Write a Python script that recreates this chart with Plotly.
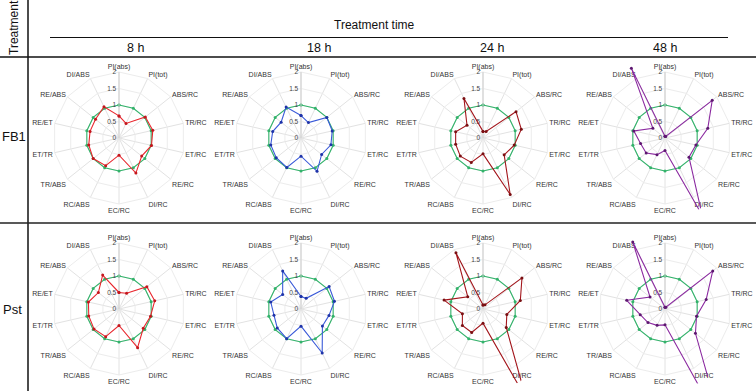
import plotly.graph_objects as go

# ---------------- data ----------------
params = ["PI(abs)", "PI(tot)", "ABS/RC", "TR/RC", "ET/RC", "RE/RC", "DI/RC",
          "EC/RC", "RC/ABS", "TR/ABS", "ET/TR", "RE/ET", "RE/ABS", "DI/ABS"]
times = ["8 h", "18 h", "24 h", "48 h"]
treatments = ["FB1", "Pst"]
radial_ticks = [0, 0.5, 1, 1.5, 2]
radial_ticktext = ["0", "0.5", "1", "1.5", "2"]

control = [1, 1, 1, 1, 1, 1, 1, 1, 1, 1, 1, 1, 1, 1]

fb1_8h = [0.67, 0.49, 1.02, 1.05, 1.01, 0.88, 1.18, 0.52, 0.93, 1.00, 0.94, 0.90, 0.91, 1.05]
fb1_18h = [0.68, 0.52, 1.00, 0.97, 0.93, 0.80, 1.12, 0.55, 0.99, 0.96, 0.94, 0.88, 0.77, 1.04]
fb1_24h = [0.20, 0.22, 1.28, 1.19, 0.97, 0.82, 1.90, 0.48, 0.82, 0.88, 0.85, 0.85, 0.62, 1.33]
fb1_48h = [0.05, 0.05, 1.83, 1.33, 0.96, 0.93, 2.60, 0.38, 0.56, 0.73, 0.76, 0.97, 0.47, 2.35]

pst_8h = [0.50, 0.53, 1.08, 1.11, 0.98, 0.94, 1.30, 0.50, 0.93, 0.97, 0.94, 0.95, 0.80, 1.14]
pst_18h = [0.38, 0.36, 1.09, 1.04, 0.87, 0.83, 1.48, 0.52, 1.00, 0.92, 0.84, 0.94, 0.71, 1.28]
pst_24h = [0.12, 0.14, 1.51, 1.16, 0.74, 0.90, 3.00, 0.43, 0.79, 0.80, 0.64, 1.21, 0.59, 1.89]
pst_48h = [0.05, 0.06, 1.85, 1.28, 0.98, 1.18, 4.00, 0.48, 0.55, 0.66, 0.77, 1.19, 0.58, 2.25]

series = [[fb1_8h, fb1_18h, fb1_24h, fb1_48h],
          [pst_8h, pst_18h, pst_24h, pst_48h]]

line_colors = ["#e8262d", "#3a5ad8", "#a3161c", "#8b2aa0"]
marker_colors = ["#c4161d", "#1f33a8", "#7a0f12", "#5d1770"]
control_color = "#33b36b"

# ---------------- layout geometry ----------------
W, H = 756, 391
col_cx = [119, 301, 483, 665]
row_cy = [138, 309]
unit_px = 33
grid_max = 2
data_max = [2.4, 2.48]
FONT = "Liberation Sans, Arial, sans-serif"


def dom(cx, cy, rad):
    return dict(x=[(cx - rad) / W, (cx + rad) / W],
                y=[1 - (cy + rad) / H, 1 - (cy - rad) / H])


fig = go.Figure()
layout_polars = {}

# control traces in grid polars (1..8)
for i in range(2):
    for j in range(4):
        k = i * 4 + j
        gid = "polar" if k == 0 else f"polar{k + 1}"
        fig.add_trace(go.Scatterpolar(
            r=control + control[:1], theta=params + params[:1],
            mode="lines+markers", subplot=gid,
            line=dict(color=control_color, width=1.1),
            marker=dict(color=control_color, size=3),
            showlegend=False, hoverinfo="skip"))
        layout_polars[gid] = dict(
            domain=dom(col_cx[j], row_cy[i], grid_max * unit_px),
            bgcolor="rgba(0,0,0,0)", gridshape="linear",
            radialaxis=dict(range=[0, grid_max], tickvals=radial_ticks,
                            ticktext=radial_ticktext, angle=90, tickangle=90,
                            side="counterclockwise", showline=True,
                            linecolor="#cfcfcf", linewidth=1,
                            gridcolor="#ececec", gridwidth=1, ticks="",
                            tickfont=dict(size=6.5, color="#444", family=FONT)),
            angularaxis=dict(type="category", categoryarray=params,
                             direction="clockwise", rotation=90,
                             showline=True, linecolor="#ececec", linewidth=1,
                             gridcolor="#e2e2e2", gridwidth=1, ticks="",
                             tickfont=dict(size=7, color="#333", family=FONT)))

# treatment traces in overlay polars (9..16)
for i in range(2):
    for j in range(4):
        k = i * 4 + j
        did = f"polar{k + 9}"
        vals = series[i][j]
        fig.add_trace(go.Scatterpolar(
            r=vals + vals[:1], theta=params + params[:1],
            mode="lines+markers", subplot=did,
            line=dict(color=line_colors[j], width=1.1),
            marker=dict(color=marker_colors[j], size=3),
            showlegend=False, hoverinfo="skip"))
        layout_polars[did] = dict(
            domain=dom(col_cx[j], row_cy[i], data_max[i] * unit_px),
            bgcolor="rgba(0,0,0,0)", gridshape="linear",
            radialaxis=dict(range=[0, data_max[i]], showgrid=False,
                            showticklabels=False, showline=False, ticks=""),
            angularaxis=dict(type="category", categoryarray=params,
                             direction="clockwise", rotation=90,
                             showgrid=False, showticklabels=False,
                             showline=False, ticks=""))

fig.update_layout(**layout_polars)

# ---------------- table frame & headers ----------------
def px(x):
    return x / W


def py(y):
    return 1 - y / H


shapes = [
    dict(type="line", xref="paper", yref="paper", x0=px(28), x1=px(28), y0=0, y1=1,
         line=dict(color="#111", width=1.5)),
    dict(type="line", xref="paper", yref="paper", x0=0, x1=1, y0=py(57), y1=py(57),
         line=dict(color="#111", width=1.5)),
    dict(type="line", xref="paper", yref="paper", x0=0, x1=1, y0=py(223), y1=py(223),
         line=dict(color="#222", width=1.5)),
    dict(type="line", xref="paper", yref="paper", x0=px(50), x1=px(728), y0=py(37.5), y1=py(37.5),
         line=dict(color="#111", width=1.2)),
]

header_x = [135.5, 319, 492, 665]
annotations = [
    dict(text="Treatment", x=px(14), y=py(28), textangle=-90, font=dict(size=12)),
    dict(text="Treatment time", x=px(374), y=py(25), font=dict(size=12)),
    dict(text=treatments[0], x=px(14), y=py(137), font=dict(size=13)),
    dict(text=treatments[1], x=px(12), y=py(309), font=dict(size=13)),
]
for j, t in enumerate(times):
    annotations.append(dict(text=t, x=px(header_x[j]), y=py(48), font=dict(size=12.5)))
for a in annotations:
    a.update(xref="paper", yref="paper", showarrow=False, xanchor="center", yanchor="middle")
    a["font"].update(family=FONT, color="#111")

fig.update_layout(
    width=W, height=H, margin=dict(l=0, r=0, t=0, b=0),
    paper_bgcolor="white", plot_bgcolor="white", showlegend=False,
    font=dict(family=FONT), shapes=shapes, annotations=annotations)

fig.write_html("out.html", config={"displayModeBar": False},
               post_script="document.body.style.margin='0';document.body.style.padding='0';")
